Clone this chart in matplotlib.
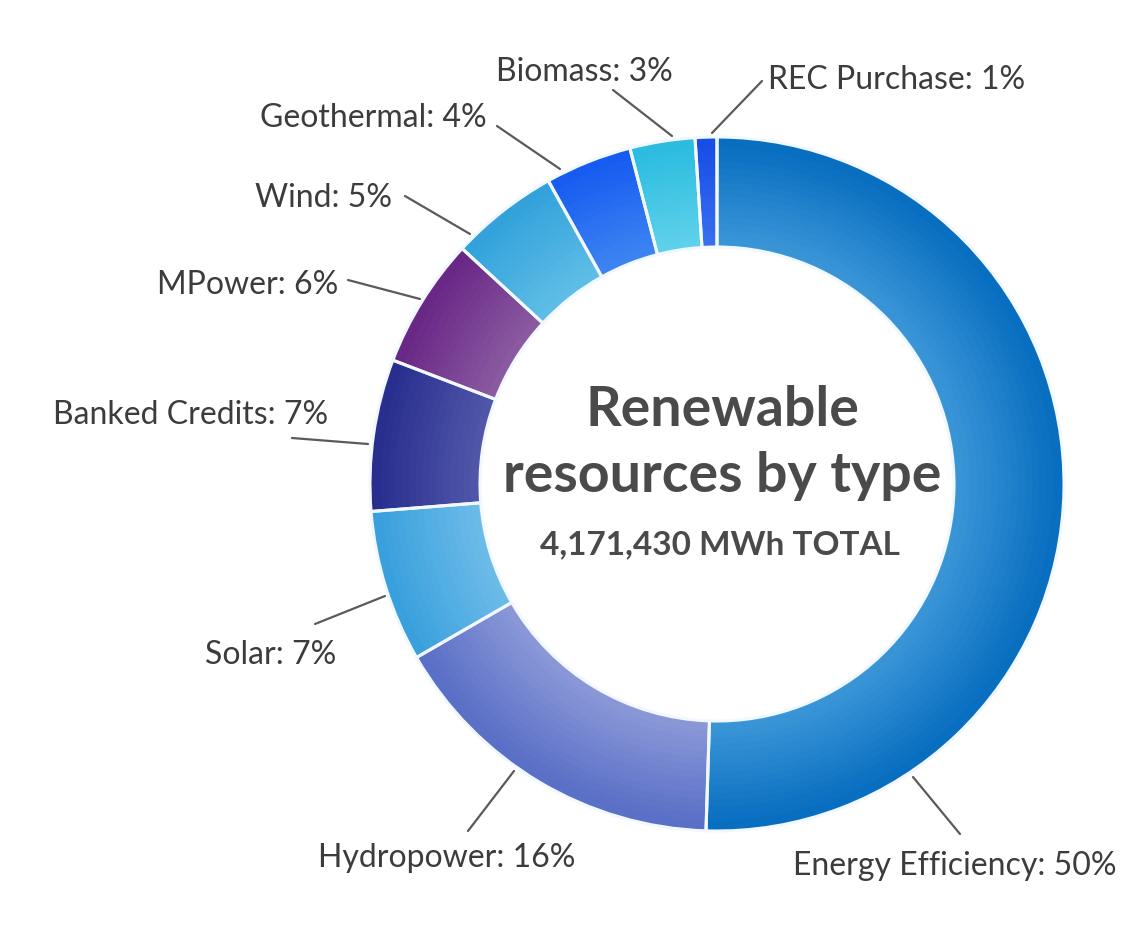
import numpy as np
import matplotlib.pyplot as plt
from matplotlib.colors import to_rgb

plt.rcParams['font.family'] = ['Lato', 'DejaVu Sans']

# data
labels = ['Energy Efficiency', 'Hydropower', 'Solar', 'Banked Credits', 'MPower',
          'Wind', 'Geothermal', 'Biomass', 'REC Purchase']
values = [50, 16, 7, 7, 6, 5, 4, 3, 1]
# inner / outer shade of every slice
inner_colors = ['#3d97d8', '#8c9ad8', '#6fbde9', '#5259aa', '#8c5ca2',
                '#61bfe7', '#3f86f2', '#62d2eb', '#3a6ff0']
outer_colors = ['#086ec0', '#5a6fc6', '#3aa0dd', '#282e8e', '#692886',
                '#33a2db', '#175cf0', '#2bbcdf', '#174ee6']
title_lines = ['Renewable', 'resources by type']
total_text = '4,171,430 MWh TOTAL'

W, H = 1122, 945
cx, cy = 717, 485
R_out, R_in = 347, 237

# leader lines (pixel coords, y from top): text end -> ring end
leaders = {
    'Energy Efficiency': ((960, 835), (913, 778)),
    'Hydropower': ((468, 832), (514, 772)),
    'Solar': ((315, 625), (385, 597)),
    'Banked Credits': ((292, 439), (368, 445)),
    'MPower': ((348, 281), (420, 300)),
    'Wind': ((405, 197), (470, 235)),
    'Geothermal': ((497, 127), (560, 170)),
    'Biomass': ((613, 91), (672, 137)),
    'REC Purchase': ((762, 82), (712, 134)),
}
# label anchor: x, y, horizontal alignment
label_pos = {
    'Energy Efficiency': (793, 866, 'left'),
    'Hydropower': (318, 858, 'left'),
    'Solar': (336, 655, 'right'),
    'Banked Credits': (328, 415, 'right'),
    'MPower': (338, 285, 'right'),
    'Wind': (392, 198, 'right'),
    'Geothermal': (487, 118, 'right'),
    'Biomass': (673, 72, 'right'),
    'REC Purchase': (768, 80, 'left'),
}

fig = plt.figure(figsize=(W / 100, H / 100), dpi=100)
ax = fig.add_axes([0, 0, 1, 1])

# radial gradient: stack of thin rings, inner to outer
n_rings = 16
dw = (R_out - R_in) / n_rings
for i in range(n_rings):
    t = i / (n_rings - 1)
    cols = [tuple((1 - t) * np.array(to_rgb(a)) + t * np.array(to_rgb(b)))
            for a, b in zip(inner_colors, outer_colors)]
    r = R_in + (i + 1) * dw
    ax.pie(values, radius=r, center=(cx, cy), startangle=270,
           counterclock=True, colors=cols,
           wedgeprops=dict(width=min(dw * 1.6, r - R_in), linewidth=0))

# white separators
ax.pie(values, radius=R_out, center=(cx, cy), startangle=270, counterclock=True,
       wedgeprops=dict(width=R_out - R_in, facecolor='none', edgecolor='#f2f8ff',
                       linewidth=2.2))

for name, v in zip(labels, values):
    (x0, y0), (x1, y1) = leaders[name]
    ax.plot([x0, x1], [y0, y1], color='#5a5a5a', lw=1.6, solid_capstyle='round')
    tx, ty, ha = label_pos[name]
    ax.text(tx, ty, f'{name}: {v}%', ha=ha, va='center', fontsize=23,
            color='#3c3c3c')

ax.text(722, 410, title_lines[0], ha='center', va='center', fontsize=40,
        fontweight='bold', color='#4a4a4a')
ax.text(722, 476, title_lines[1], ha='center', va='center', fontsize=40,
        fontweight='bold', color='#4a4a4a')
ax.text(720, 545, total_text, ha='center', va='center', fontsize=24,
        fontweight='bold', color='#4a4a4a')

ax.set_xlim(0, W)
ax.set_ylim(H, 0)
ax.set_aspect('equal')
ax.axis('off')

fig.savefig('out.png', dpi=100, facecolor='white')
